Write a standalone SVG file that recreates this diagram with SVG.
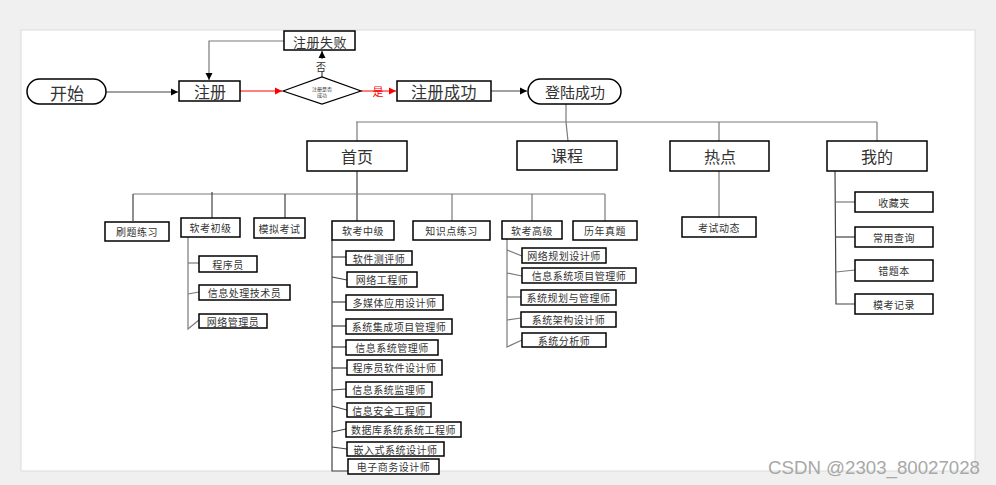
<svg xmlns="http://www.w3.org/2000/svg" width="996" height="485" viewBox="0 0 996 485">
<defs>
<marker id="ab" markerWidth="8" markerHeight="8" refX="7" refY="4" orient="auto" markerUnits="userSpaceOnUse"><path d="M0,0.5 L7,4 L0,7.5 Z" fill="#000"/></marker>
<marker id="ar" markerWidth="8" markerHeight="8" refX="7" refY="4" orient="auto" markerUnits="userSpaceOnUse"><path d="M0,0.5 L7,4 L0,7.5 Z" fill="#f00"/></marker>
<style>
.bx{fill:#fff;stroke:#000;stroke-width:1.5}
.t{font-family:"Noto Sans CJK SC","Liberation Sans",sans-serif;fill:#333;text-anchor:middle;dominant-baseline:central}
.s{font-size:10px;letter-spacing:0.5px}
.c{fill:none;stroke:#7a7a7a;stroke-width:1.2}
.cd{fill:none;stroke:#444;stroke-width:1.2}
</style>
</defs>
<rect x="0" y="0" width="996" height="485" fill="#f0f0f0"/>
<rect x="21" y="30" width="954" height="441" fill="#fff" stroke="#dcdcdc"/>

<g id="connectors">
<line class="cd" x1="106" y1="92" x2="178" y2="92" marker-end="url(#ab)"/>
<line x1="240" y1="91" x2="282" y2="91" stroke="#f00" stroke-width="1" marker-end="url(#ar)"/>
<line x1="361" y1="91" x2="396" y2="91" stroke="#f00" stroke-width="1" marker-end="url(#ar)"/>
<line class="cd" x1="322" y1="77" x2="322" y2="51" marker-end="url(#ab)"/>
<polyline class="c" points="284,41 209,41 209,80" marker-end="url(#ab)"/>
<line class="cd" x1="491" y1="91" x2="527" y2="91" marker-end="url(#ab)"/>
<line class="c" x1="566" y1="104" x2="566" y2="122"/>
<line class="c" x1="356" y1="122" x2="877" y2="122"/>
<line class="c" x1="357" y1="122" x2="357" y2="141"/>
<line class="c" x1="566" y1="122" x2="568" y2="141"/>
<line class="c" x1="719" y1="122" x2="719" y2="141"/>
<line class="c" x1="877" y1="122" x2="877" y2="141"/>
<line class="cd" x1="357" y1="171" x2="357" y2="221"/>
<line class="c" x1="133" y1="194" x2="605" y2="194"/>
<line class="cd" x1="133" y1="194" x2="133" y2="221"/>
<line class="cd" x1="212" y1="192" x2="212" y2="218"/>
<line class="cd" x1="285" y1="194" x2="285" y2="218"/>
<line class="c" x1="452" y1="194" x2="452" y2="221"/>
<line class="c" x1="532" y1="194" x2="532" y2="221"/>
<line class="c" x1="605" y1="194" x2="605" y2="221"/>
<line class="c" x1="719" y1="171" x2="719" y2="217"/>
<polyline class="cd" points="835,171 836,304 855,304"/>
<line class="c" x1="836" y1="202" x2="855" y2="202"/>
<line class="cd" x1="836" y1="237" x2="855" y2="237"/>
<line class="c" x1="836" y1="272" x2="855" y2="270"/>
<polyline class="c" points="188,237 188,329 199,320"/>
<line class="c" x1="188" y1="263" x2="199" y2="263"/>
<line class="c" x1="188" y1="294" x2="199" y2="292"/>
<polyline class="cd" points="332,240 332,471 348,471"/>
<line class="cd" x1="332" y1="257" x2="346" y2="257"/>
<line class="cd" x1="332" y1="277" x2="347" y2="280"/>
<line class="cd" x1="332" y1="302" x2="346" y2="302"/>
<line class="cd" x1="332" y1="326" x2="346" y2="326"/>
<line class="cd" x1="332" y1="347" x2="346" y2="347"/>
<line class="cd" x1="332" y1="368" x2="347" y2="368"/>
<line class="cd" x1="332" y1="390" x2="346" y2="389"/>
<line class="cd" x1="332" y1="406" x2="347" y2="410"/>
<line class="cd" x1="332" y1="432" x2="346" y2="429"/>
<line class="cd" x1="332" y1="447" x2="347" y2="449"/>
<polyline class="c" points="507,239 507,347 522,340"/>
<line class="c" x1="507" y1="250" x2="522" y2="256"/>
<line class="c" x1="507" y1="273" x2="522" y2="276"/>
<line class="c" x1="507" y1="297" x2="521" y2="297"/>
<line class="c" x1="507" y1="320" x2="521" y2="318"/>
<rect x="315" y="59" width="12" height="12" fill="#fff"/>
<text class="t" x="321" y="66" style="font-size:10px">否</text>
<text class="t" x="378" y="91" style="font-size:11px;fill:#f00">是</text>
</g>

<g id="start"><rect class="bx" x="27" y="79" width="79" height="25" rx="12.5"/><text class="t" x="67" y="92" style="font-size:17px">开始</text></g>
<g id="register"><rect class="bx" x="179" y="81" width="61" height="20"/><text class="t" x="210" y="91" style="font-size:16px">注册</text></g>
<g id="decision"><polygon class="bx" points="283,91 322,77 361,91 322,104" style="stroke-width:1.2"/><text class="t" x="322" y="88" style="font-size:5px">注册是否</text><text class="t" x="322" y="94" style="font-size:5px">成功</text></g>
<g id="regfail"><rect class="bx" x="284" y="31" width="71" height="19"/><text class="t" x="320" y="41" style="font-size:13px;letter-spacing:0.5px">注册失败</text></g>
<g id="regok"><rect class="bx" x="397" y="81" width="94" height="20"/><text class="t" x="444" y="91" style="font-size:16px;letter-spacing:0.5px">注册成功</text></g>
<g id="loginok"><rect class="bx" x="528" y="79" width="93" height="25" rx="12.5"/><text class="t" x="575" y="91" style="font-size:15px">登陆成功</text></g>

<g id="home"><rect class="bx" x="307" y="141" width="100" height="30"/><text class="t" x="357" y="156" style="font-size:16px">首页</text></g>
<g id="course"><rect class="bx" x="517" y="141" width="100" height="29"/><text class="t" x="567" y="155" style="font-size:16px">课程</text></g>
<g id="hot"><rect class="bx" x="670" y="141" width="99" height="30"/><text class="t" x="720" y="156" style="font-size:16px">热点</text></g>
<g id="mine"><rect class="bx" x="827" y="141" width="100" height="30"/><text class="t" x="877" y="156" style="font-size:16px">我的</text></g>

<g id="n-shuati"><rect class="bx" x="105" y="222" width="64" height="19"/><text class="t s" x="137" y="231.5">刷题练习</text></g>
<g id="n-chuji"><rect class="bx" x="181" y="218" width="59" height="19"/><text class="t s" x="210.5" y="227.5">软考初级</text></g>
<g id="n-moni"><rect class="bx" x="254" y="218" width="51" height="20"/><text class="t s" x="279.5" y="228">模拟考试</text></g>
<g id="n-zhongji"><rect class="bx" x="332" y="221" width="62" height="19"/><text class="t s" x="363" y="230.5">软考中级</text></g>
<g id="n-zhishi"><rect class="bx" x="413" y="221" width="77" height="19"/><text class="t s" x="451.5" y="230.5">知识点练习</text></g>
<g id="n-gaoji"><rect class="bx" x="502" y="221" width="60" height="18"/><text class="t s" x="532" y="230">软考高级</text></g>
<g id="n-linian"><rect class="bx" x="573" y="221" width="64" height="19"/><text class="t s" x="605" y="230.5">历年真题</text></g>
<g id="n-kaoshi"><rect class="bx" x="682" y="217" width="74" height="20"/><text class="t s" x="719" y="227">考试动态</text></g>

<g id="m1"><rect class="bx" x="855" y="192" width="78" height="20"/><text class="t s" x="894" y="202">收藏夹</text></g>
<g id="m2"><rect class="bx" x="855" y="227" width="78" height="20"/><text class="t s" x="894" y="237">常用查询</text></g>
<g id="m3"><rect class="bx" x="855" y="260" width="78" height="21"/><text class="t s" x="894" y="270.5">错题本</text></g>
<g id="m4"><rect class="bx" x="855" y="294" width="78" height="20"/><text class="t s" x="894" y="304">模考记录</text></g>

<g id="c1"><rect class="bx" x="199" y="256" width="58" height="16"/><text class="t s" x="228" y="264">程序员</text></g>
<g id="c2"><rect class="bx" x="199" y="285" width="91" height="15"/><text class="t s" x="244.5" y="292.5">信息处理技术员</text></g>
<g id="c3"><rect class="bx" x="199" y="314" width="68" height="14"/><text class="t s" x="233" y="321">网络管理员</text></g>

<g id="z1"><rect class="bx" x="346" y="251" width="66" height="14"/><text class="t s" x="379" y="258">软件测评师</text></g>
<g id="z2"><rect class="bx" x="347" y="272" width="70" height="15"/><text class="t s" x="382" y="279.5">网络工程师</text></g>
<g id="z3"><rect class="bx" x="346" y="295" width="97" height="15"/><text class="t s" x="394.5" y="302.5">多媒体应用设计师</text></g>
<g id="z4"><rect class="bx" x="346" y="319" width="106" height="15"/><text class="t s" x="399" y="326.5">系统集成项目管理师</text></g>
<g id="z5"><rect class="bx" x="346" y="340" width="92" height="15"/><text class="t s" x="392" y="347.5">信息系统管理师</text></g>
<g id="z6"><rect class="bx" x="347" y="360" width="95" height="15"/><text class="t s" x="394.5" y="367.5">程序员软件设计师</text></g>
<g id="z7"><rect class="bx" x="346" y="382" width="86" height="15"/><text class="t s" x="389" y="389.5">信息系统监理师</text></g>
<g id="z8"><rect class="bx" x="347" y="403" width="84" height="14"/><text class="t s" x="389" y="410">信息安全工程师</text></g>
<g id="z9"><rect class="bx" x="346" y="422" width="115" height="15"/><text class="t s" x="403.5" y="429.5">数据库系统系统工程师</text></g>
<g id="z10"><rect class="bx" x="347" y="442" width="97" height="14"/><text class="t s" x="395.5" y="449">嵌入式系统设计师</text></g>
<g id="z11"><rect class="bx" x="348" y="459" width="91" height="15"/><text class="t s" x="393.5" y="466.5">电子商务设计师</text></g>

<g id="g1"><rect class="bx" x="522" y="248" width="84" height="15"/><text class="t s" x="564" y="255.5">网络规划设计师</text></g>
<g id="g2"><rect class="bx" x="522" y="268" width="114" height="15"/><text class="t s" x="579" y="275.5">信息系统项目管理师</text></g>
<g id="g3"><rect class="bx" x="521" y="290" width="95" height="15"/><text class="t s" x="568.5" y="297.5">系统规划与管理师</text></g>
<g id="g4"><rect class="bx" x="521" y="312" width="95" height="15"/><text class="t s" x="568.5" y="319.5">系统架构设计师</text></g>
<g id="g5"><rect class="bx" x="522" y="333" width="84" height="14"/><text class="t s" x="564" y="340">系统分析师</text></g>

<text x="768" y="474" textLength="212" lengthAdjust="spacingAndGlyphs" style="font-family:'Liberation Sans',Arial,sans-serif;font-size:18px;fill:#a8a8a8">CSDN @2303_80027028</text>
</svg>
